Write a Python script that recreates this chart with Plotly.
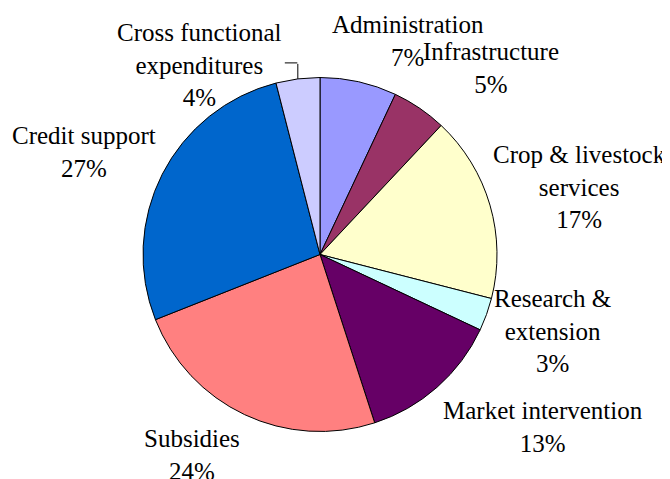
import math
import plotly.graph_objects as go

# ---- data ----
categories = ["Administration", "Infrastructure", "Crop & livestock services",
              "Research & extension", "Market intervention", "Subsidies",
              "Credit support", "Cross functional expenditures"]
shares = [7, 5, 17, 3, 13, 24, 27, 4]
label_text = ["Administration<br>7%", "Infrastructure<br>5%",
              "Crop & livestock<br>services<br>17%", "Research &<br>extension<br>3%",
              "Market intervention<br>13%", "Subsidies<br>24%",
              "Credit support<br>27%", "Cross functional<br>expenditures<br>4%"]

# ---- style ----
colors = ["#9999FF", "#993366", "#FFFFCC", "#CCFFFF", "#660066", "#FF8080",
          "#0066CC", "#CCCCFF"]
# label offsets (px) from slice mid-angle edge point
label_offsets = [(49, -41), (72, -40), (90, -18), (66, 17), (106, 40),
                 (-53, 40), (-78, -22), (-98, -14)]
FONT = "Times New Roman"

W, H = 670, 479
PAGE_MARGIN = 8  # default body margin of the html page
cx_px, cy_px, R = 320 - PAGE_MARGIN, 254.5 - PAGE_MARGIN, 177
dom_x = [(cx_px - R) / W, (cx_px + R) / W]
dom_y = [(H - cy_px - R) / H, (H - cy_px + R) / H]

fig = go.Figure(go.Pie(
    labels=categories, values=shares, sort=False, direction="clockwise",
    rotation=0, textinfo="none",
    marker=dict(colors=colors, line=dict(color="black", width=1)),
    domain=dict(x=dom_x, y=dom_y), showlegend=False,
))

total = sum(shares)
cum = 0
edge_pts = []
for i, v in enumerate(shares):
    mid = (cum + v / 2) / total * 2 * math.pi
    cum += v
    ex = cx_px + R * math.sin(mid)
    ey = cy_px - R * math.cos(mid)
    edge_pts.append((ex, ey))
    dx, dy = label_offsets[i]
    fig.add_annotation(
        x=0.5, y=0.5, xref="paper", yref="paper",
        xshift=(ex + dx) - W / 2, yshift=-((ey + dy) - H / 2),
        text=label_text[i], showarrow=False,
        font=dict(family=FONT, size=25, color="black"))

# leader line for the small "Cross functional" slice (two plain arrow segments)
ex, ey = edge_pts[7]
segments = [((ex, ey), 0, -16), ((ex - 0.5, ey - 16), -13, 0)]
for (hx, hy), ax, ay in segments:
    fig.add_annotation(
        x=0.5, y=0.5, xref="paper", yref="paper",
        xshift=hx - W / 2, yshift=-(hy - H / 2),
        text=" ", showarrow=True, ax=ax, ay=ay, arrowhead=0,
        arrowwidth=1, arrowcolor="black", standoff=0, startstandoff=0,
        font=dict(family=FONT, size=1), borderpad=0)

fig.update_layout(width=W, height=H, margin=dict(l=0, r=0, t=0, b=0),
                  font=dict(family=FONT, color="black"))
fig.write_html("out.html", config={"displayModeBar": False})
